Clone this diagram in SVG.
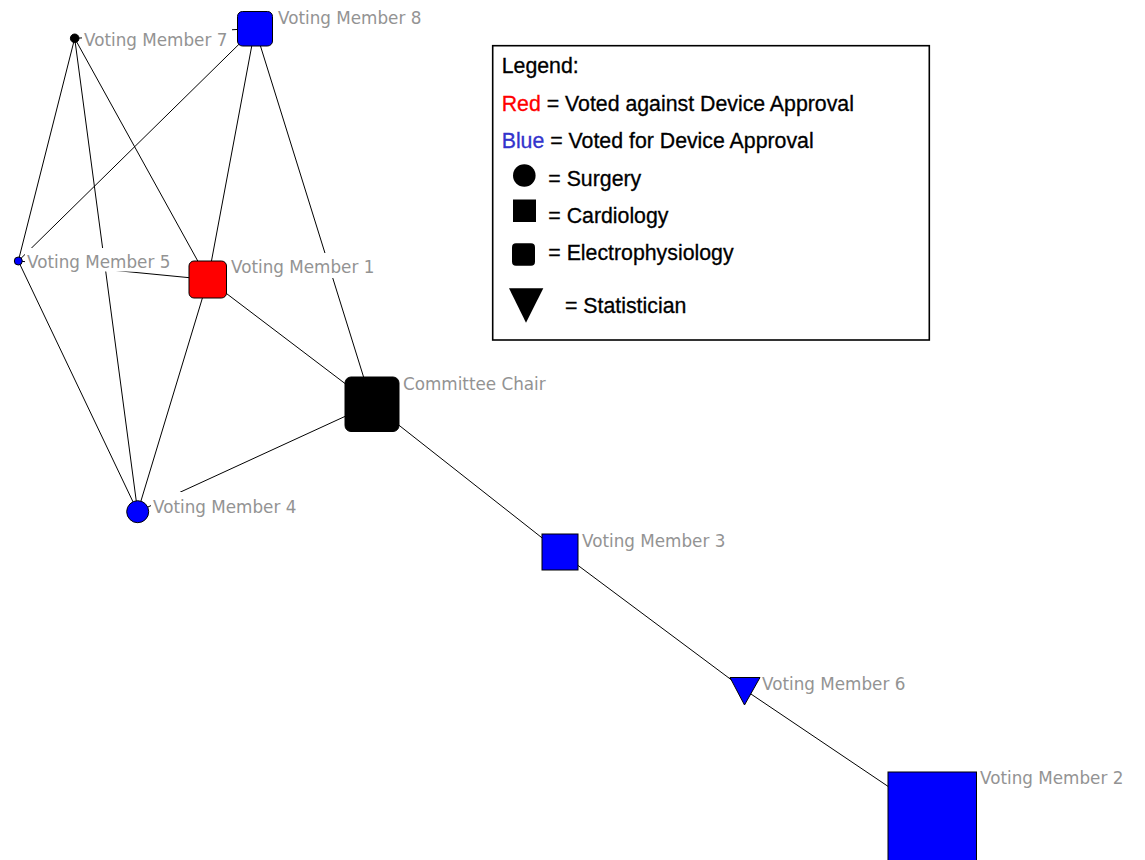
<svg xmlns="http://www.w3.org/2000/svg" width="1145" height="860" viewBox="0 0 1145 860">
<style>
.edge{stroke:#000;stroke-width:1;fill:none}
.lbl{font-family:"DejaVu Sans",Verdana,sans-serif;font-size:16.8px;fill:#939393}
.lbg{fill:#fff}
.nd{stroke:#000;stroke-width:1}
.blue{fill:#0000ff}
.red{fill:#ff0000}
.blk{fill:#000}
.leg{font-family:"Liberation Sans",Arial,sans-serif;font-size:21.3px;fill:#000;stroke:#000;stroke-width:0.3}
</style>
<rect width="1145" height="860" fill="#fff"/>
<g id="connectors">
<line class="edge" x1="74.7" y1="38.3" x2="255" y2="28.5"/>
<line class="edge" x1="74.7" y1="38.3" x2="18.3" y2="261"/>
<line class="edge" x1="74.7" y1="38.3" x2="137.7" y2="511.7"/>
<line class="edge" x1="74.7" y1="38.3" x2="208" y2="279.5"/>
<line class="edge" x1="255" y1="28.5" x2="18.3" y2="261"/>
<line class="edge" x1="255" y1="28.5" x2="208" y2="279.5"/>
<line class="edge" x1="255" y1="28.5" x2="372" y2="404"/>
<line class="edge" x1="18.3" y1="261" x2="208" y2="279.5"/>
<line class="edge" x1="18.3" y1="261" x2="137.7" y2="511.7"/>
<line class="edge" x1="208" y1="279.5" x2="137.7" y2="511.7"/>
<line class="edge" x1="208" y1="279.5" x2="372" y2="404"/>
<line class="edge" x1="137.7" y1="511.7" x2="372" y2="404"/>
<line class="edge" x1="372" y1="404" x2="560" y2="552"/>
<line class="edge" x1="560" y1="552" x2="745" y2="690"/>
<line class="edge" x1="745" y1="690" x2="932" y2="816"/>
</g>
<g id="member8">
<rect class="lbg" x="276" y="4" width="150" height="25"/>
<text class="lbl" x="278" y="24">Voting Member 8</text>
<rect class="nd blue" x="237.5" y="11.5" width="35" height="34.5" rx="5"/>
</g>
<g id="member7">
<rect class="lbg" x="82" y="26" width="150" height="25"/>
<text class="lbl" x="84" y="46">Voting Member 7</text>
<circle class="nd blk" cx="74.7" cy="38.3" r="4.3"/>
</g>
<g id="member5">
<rect class="lbg" x="25" y="248" width="150" height="23.5"/>
<text class="lbl" x="27" y="268">Voting Member 5</text>
<circle class="nd blue" cx="18.3" cy="261" r="4"/>
</g>
<g id="member1">
<rect class="lbg" x="229" y="253" width="150" height="25"/>
<text class="lbl" x="231" y="273">Voting Member 1</text>
<rect class="nd red" x="189" y="261" width="37.5" height="37" rx="5"/>
</g>
<g id="chair">
<rect class="lbg" x="401" y="370" width="146" height="25"/>
<text class="lbl" x="403" y="390">Committee Chair</text>
<rect class="nd blk" x="345" y="377" width="54" height="54.5" rx="6"/>
</g>
<g id="member4">
<rect class="lbg" x="151" y="492" width="150" height="25"/>
<text class="lbl" x="153" y="513">Voting Member 4</text>
<circle class="nd blue" cx="137.7" cy="511.7" r="11"/>
</g>
<g id="member3">
<rect class="lbg" x="580" y="527" width="150" height="25"/>
<text class="lbl" x="582" y="547">Voting Member 3</text>
<rect class="nd blue" x="542" y="534" width="36" height="36"/>
</g>
<g id="member6">
<rect class="lbg" x="760" y="670" width="150" height="25"/>
<text class="lbl" x="762" y="690">Voting Member 6</text>
<polygon class="nd blue" points="730,677.5 760,677.5 744.5,705"/>
</g>
<g id="member2">
<rect class="lbg" x="978" y="764" width="150" height="25"/>
<text class="lbl" x="980" y="784">Voting Member 2</text>
<rect class="nd blue" x="888" y="772" width="88.5" height="89"/>
</g>
<g id="legend">
<rect x="492.7" y="45.7" width="436.6" height="294.3" fill="#fff" stroke="#000" stroke-width="1.6"/>
<text class="leg" x="501.7" y="72.5">Legend:</text>
<text class="leg" x="501.7" y="110.7"><tspan fill="#ff0000" stroke="#ff0000">Red</tspan> = Voted against Device Approval</text>
<text class="leg" x="501.7" y="148.3"><tspan fill="#3333cc" stroke="#3333cc">Blue</tspan> = Voted for Device Approval</text>
<circle cx="524.3" cy="175.5" r="11.3" fill="#000"/>
<text class="leg" x="548.3" y="185.7">= Surgery</text>
<rect x="513" y="199.5" width="23" height="22.5" fill="#000"/>
<text class="leg" x="548.3" y="222.7">= Cardiology</text>
<rect x="512" y="243.3" width="23" height="22.5" rx="4" fill="#000"/>
<text class="leg" x="548.3" y="260">= Electrophysiology</text>
<polygon points="509,288.3 543.3,288.3 526,322.7" fill="#000"/>
<text class="leg" x="565" y="312.7">= Statistician</text>
</g>
</svg>
